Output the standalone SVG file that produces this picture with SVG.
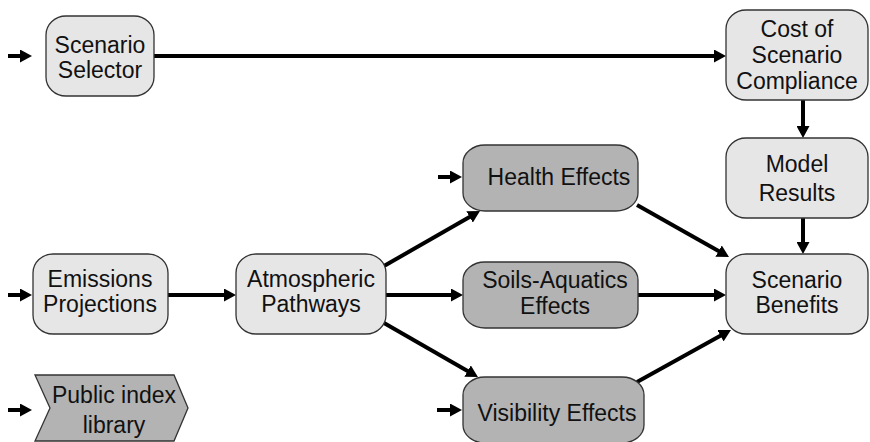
<svg xmlns="http://www.w3.org/2000/svg" width="870" height="442" viewBox="0 0 870 442">
<defs>
<style>
.lt{fill:#e6e6e6;stroke:#333;stroke-width:1.3}
.dk{fill:#b3b3b3;stroke:#333;stroke-width:1.3}
text{font-family:"Liberation Sans",Arial,sans-serif;font-size:23px;fill:#111;text-anchor:middle}
.c{stroke:#000;stroke-width:4;fill:none;marker-end:url(#ah)}
</style>
<marker id="ah" markerUnits="userSpaceOnUse" viewBox="0 0 12 13" refX="2" refY="6.5" markerWidth="12" markerHeight="13" orient="auto">
<path d="M0,0 L12,6.5 L0,13 z" fill="#000"/>
</marker>
</defs>
<rect width="870" height="442" fill="#fff"/>
<g id="connectors">
<line class="c" x1="154" y1="56" x2="716" y2="56"/>
<line class="c" x1="803" y1="100" x2="803" y2="128"/>
<line class="c" x1="803" y1="218" x2="803" y2="244"/>
<line class="c" x1="168" y1="295" x2="226" y2="295"/>
<line class="c" x1="384" y1="266" x2="471.3" y2="216"/>
<line class="c" x1="386" y1="295" x2="453" y2="295"/>
<line class="c" x1="384" y1="323" x2="469.3" y2="372"/>
<line class="c" x1="637" y1="205" x2="720.3" y2="252.1"/>
<line class="c" x1="638" y1="295" x2="716" y2="295"/>
<line class="c" x1="637" y1="382" x2="722.2" y2="334.8"/>
<line class="c" x1="8" y1="56" x2="22" y2="56"/>
<line class="c" x1="8" y1="295" x2="22" y2="295"/>
<line class="c" x1="8" y1="410" x2="22" y2="410"/>
<line class="c" x1="438" y1="177" x2="452" y2="177"/>
<line class="c" x1="437" y1="410" x2="452" y2="410"/>
</g>
<g id="scenario-selector">
<rect class="lt" x="46" y="16" width="108" height="80" rx="20" ry="19"/>
<text x="100" y="53">Scenario</text>
<text x="100" y="78">Selector</text>
</g>
<g id="cost">
<rect class="lt" x="726" y="10" width="142" height="90" rx="20" ry="19"/>
<text x="797" y="37">Cost of</text>
<text x="797" y="63">Scenario</text>
<text x="797" y="89">Compliance</text>
</g>
<g id="model-results">
<rect class="lt" x="726" y="138" width="142" height="80" rx="20" ry="19"/>
<text x="797" y="172">Model</text>
<text x="797" y="201">Results</text>
</g>
<g id="scenario-benefits">
<rect class="lt" x="726" y="254" width="142" height="80" rx="20" ry="19"/>
<text x="797" y="288">Scenario</text>
<text x="797" y="313">Benefits</text>
</g>
<g id="emissions">
<rect class="lt" x="33" y="254" width="135" height="80" rx="20" ry="19"/>
<text x="100" y="287">Emissions</text>
<text x="100" y="312">Projections</text>
</g>
<g id="atmospheric">
<rect class="lt" x="236" y="254" width="150" height="80" rx="20" ry="19"/>
<text x="311" y="287">Atmospheric</text>
<text x="311" y="312">Pathways</text>
</g>
<g id="health">
<rect class="dk" x="463" y="145" width="175" height="66" rx="22" ry="18"/>
<text x="559" y="185">Health Effects</text>
</g>
<g id="soils">
<rect class="dk" x="463" y="262" width="175" height="66" rx="22" ry="18"/>
<text x="555" y="288">Soils-Aquatics</text>
<text x="555" y="314">Effects</text>
</g>
<g id="visibility">
<rect class="dk" x="463" y="377" width="181" height="66" rx="22" ry="18"/>
<text x="557" y="421">Visibility Effects</text>
</g>
<g id="public-index">
<polygon class="dk" points="35,375 174,375 188,408 174,441 35,441 50,408"/>
<text x="114" y="403">Public index</text>
<text x="114" y="433">library</text>
</g>
</svg>
